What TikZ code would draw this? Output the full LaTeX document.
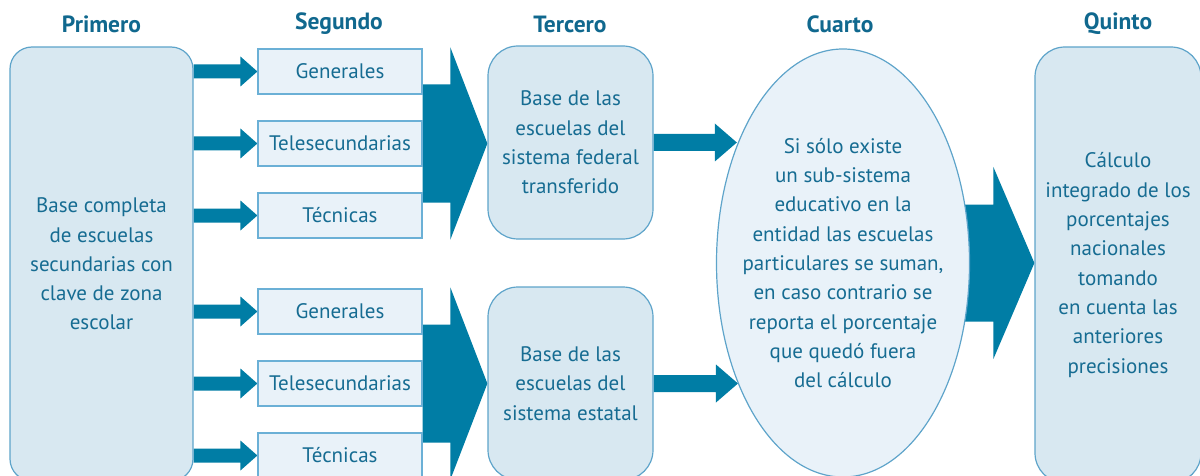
\documentclass[tikz,border=0pt]{standalone}
\usepackage{fontspec}
\setmainfont{PT Sans}
\usetikzlibrary{calc,shapes.geometric,backgrounds}
\definecolor{arrowblue}{RGB}{0,125,165}
\definecolor{txtblue}{RGB}{22,108,146}
\definecolor{hdblue}{RGB}{16,104,142}
\definecolor{boxfill}{RGB}{216,232,241}
\definecolor{boxline}{RGB}{94,164,202}
\definecolor{subfill}{RGB}{233,242,249}
\definecolor{subline}{RGB}{107,176,214}
\tikzset{
  lbl/.style={font=\fontsize{21}{29.3}\selectfont, text=txtblue, align=center},
  hdr/.style={font=\fontsize{23.5}{26}\selectfont\bfseries, text=hdblue},
  bigbox/.style={draw=boxline, fill=boxfill, line width=1.2pt, inner sep=0pt, lbl},
  subbox/.style={draw=subline, fill=subfill, line width=1.2pt, minimum width=164pt, minimum height=45pt, inner sep=0pt, lbl},
  ovalbox/.style={ellipse, draw=boxline, fill=subfill, line width=1.2pt, inner xsep=-16pt, inner ysep=0pt, minimum width=253pt, minimum height=428pt, lbl},
  arrowfill/.style={fill=arrowblue}
}
% #1 start, #2 tip, #3 shaft half-width, #4 head half-width, #5 head length
\newcommand\blockarrow[5]{\fill[arrowfill] let \p1=#1, \p2=#2 in
  (\x1,\y1+#3) -- (\x2-#5,\y1+#3) -- (\x2-#5,\y1+#4) -- (\x2,\y1) --
  (\x2-#5,\y1-#4) -- (\x2-#5,\y1-#3) -- (\x1,\y1-#3) -- cycle;}
\begin{document}
\begin{tikzpicture}[x=1pt,y=-1pt]
\useasboundingbox (0,0) rectangle (1200,476);
\clip (0,0) rectangle (1200,476);
% headings
\node[hdr] (h1) at (101.5,24) {Primero};
\node[hdr] (h2) at (339,24) {Segundo};
\node[hdr] (h3) at (570,24) {Tercero};
\node[hdr] (h4) at (840,24) {Cuarto};
\node[hdr] (h5) at (1118,24) {Quinto};
% primero
\node[bigbox, rounded corners=22pt, minimum width=183pt, minimum height=434pt] (prim) at (101.5,264)
  {Base completa\\de escuelas\\secundarias con\\clave de zona\\escolar};
% segundo
\node[subbox] (s1) at (340,71.5) {Generales};
\node[subbox] (s2) at (340,143.5) {Telesecundarias};
\node[subbox] (s3) at (340,215.5) {Técnicas};
\node[subbox] (s4) at (340,311.5) {Generales};
\node[subbox] (s5) at (340,383.5) {Telesecundarias};
\node[subbox] (s6) at (340,455.5) {Técnicas};
% tercero
\node[bigbox, rounded corners=30pt, minimum width=165pt, minimum height=193pt] (t1) at (570.5,142.5)
  {Base de las\\escuelas del\\sistema federal\\transferido};
\node[bigbox, rounded corners=30pt, minimum width=165pt, minimum height=193pt] (t2) at (570.5,383.5)
  {Base de las\\escuelas del\\sistema estatal};
% cuarto
\node[ovalbox] (ell) at (843,263)
  {Si sólo existe\\un sub-sistema\\educativo en la\\entidad las escuelas\\particulares se suman,\\en caso contrario se\\reporta el porcentaje\\que quedó fuera\\del cálculo};
% quinto
\node[bigbox, rounded corners=30pt, minimum width=166pt, minimum height=436pt] (quin) at (1118,265)
  {Cálculo\\integrado de los\\porcentajes\\nacionales\\tomando\\en cuenta las\\anteriores\\precisiones};
% arrows
\begin{pgfonlayer}{background}
\foreach \s in {s1,s2,s3,s4,s5,s6}{
  \blockarrow{(prim.east|-\s.west)}{(\s.west)}{7pt}{15pt}{17pt}
}
\blockarrow{(s2.east)}{(t1.west)}{59pt}{96pt}{37pt}
\blockarrow{(s5.east)}{(t2.west)}{59pt}{96pt}{37pt}
\blockarrow{(t1.east)}{(ell.132)}{8.5pt}{19pt}{22pt}
\blockarrow{(t2.east)}{(ell.229)}{8.5pt}{19pt}{22pt}
\blockarrow{(ell.center)}{(quin.west)}{58.5pt}{96pt}{41pt}
\end{pgfonlayer}
\end{tikzpicture}
\end{document}
